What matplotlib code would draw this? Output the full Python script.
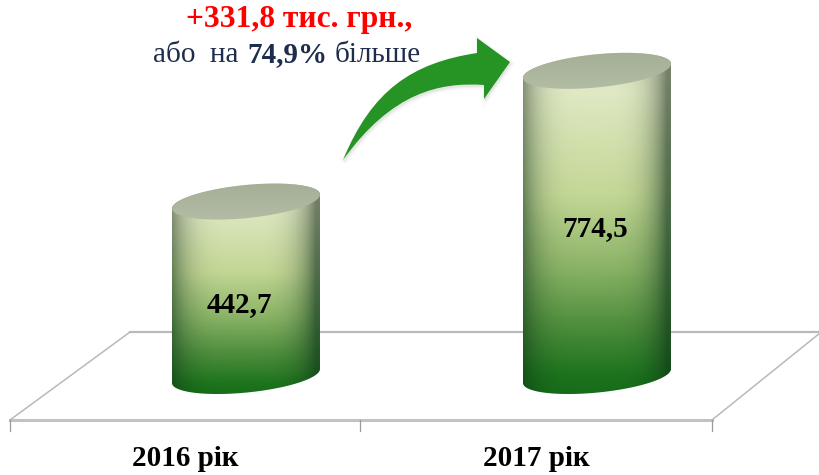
import numpy as np
import matplotlib
matplotlib.use('Agg')
import matplotlib.pyplot as plt
from matplotlib.colors import LinearSegmentedColormap
from matplotlib.patches import PathPatch
from matplotlib.path import Path
from matplotlib.transforms import Affine2D

years = ['2016 рік', '2017 рік']
values = [442.7, 774.5]
value_labels = ['442,7', '774,5']
gain_label = '+331,8 тис. грн.,'
pct_parts = ['або  на', '74,9%', 'більше']

plt.rcParams['font.family'] = ['Liberation Serif', 'DejaVu Serif']

W, H = 820, 475
PX_X = 351.     # pixels per category
PX_Y = 0.394    # pixels per value unit
X0, Y0 = 185.5, 376.

fig = plt.figure(figsize=(W / 100, H / 100), dpi=100, facecolor='white')
ax = fig.add_axes([0, 0, 1, 1])
ax.set_xlim(-X0 / PX_X, (W - X0) / PX_X)
ax.set_ylim((Y0 - H) / PX_Y, Y0 / PX_Y)
ax.axis('off')

# everything that is decoration is placed in image pixels
px = Affine2D().scale(1, -1).translate(0, H)

# floor
floor_col = '#b9b9b9'
ax.plot([130, 820], [332, 332], color=floor_col, lw=1.6, transform=px, zorder=1)
ax.plot([10, 712], [420, 420], color='#c2c2c2', lw=2.2, transform=px, zorder=1)
ax.plot([10, 130], [420, 332], color=floor_col, lw=1.1, transform=px, zorder=1)
ax.plot([712, 820], [420, 333], color=floor_col, lw=1.1, transform=px, zorder=1)
for tx in [10, 360, 712]:
    ax.plot([tx, tx], [420, 431], color='#9a9a9a', lw=0.9, transform=px, zorder=1)

body_cmap = LinearSegmentedColormap.from_list('body', [
    (0.0, '#d6dfc4'), (0.12, '#e0e9c4'), (0.42, '#c3d795'), (0.62, '#8cb467'),
    (0.8, '#4b8c3a'), (0.93, '#1d741d'), (1.0, '#156a18')])
top_cmap = LinearSegmentedColormap.from_list('top', ['#b4bea6', '#a3ad94'])

half_w = 74 / PX_X
bar_shift = 60.5 / PX_X
ell_h = 16.6 / PX_Y
ell_k = 7 / PX_Y
theta = np.linspace(0, 2 * np.pi, 120)


def ellipse_pts(xc, yc, th):
    return np.column_stack([xc + half_w * np.cos(th),
                            yc + ell_h * np.sin(th) + ell_k * np.cos(th)])


def draw_cylinder(i, val):
    xc = i + bar_shift
    # lower half of the base, right to left, then up the left side and over
    low = ellipse_pts(xc, 0, np.linspace(0, -np.pi, 60))
    up = ellipse_pts(xc, val, np.linspace(np.pi, 0, 60))
    verts = np.vstack([low, up, low[:1]])
    clip = PathPatch(Path(verts), transform=ax.transData, fc='none', ec='none')
    ax.add_patch(clip)

    ny, nx = 240, 160
    u = np.linspace(-1, 1, nx)[None, :]
    t = np.linspace(0, 1, ny)[:, None]
    rgb = body_cmap(t * np.ones_like(u))[..., :3]
    # side shading: grey at the top of the column, dark green near the base
    edge = np.clip(np.abs(u + 0.05) ** 4, 0, 1)[..., None]
    edge_col = (1 - t[..., None]) * np.array([0.47, 0.50, 0.42]) + t[..., None] * np.array([0.04, 0.27, 0.07])
    rgb = rgb * (1 - edge * 0.95) + edge_col * edge * 0.95
    y_top = val + ell_h + ell_k
    y_bot = -ell_h - ell_k
    im = ax.imshow(rgb, extent=[xc - half_w, xc + half_w, y_bot, y_top], aspect='auto',
                   origin='upper', interpolation='bilinear', zorder=2)
    im.set_clip_path(clip)

    cap = PathPatch(Path(ellipse_pts(xc, val, theta)), transform=ax.transData, fc='none', ec='none')
    ax.add_patch(cap)
    grad = np.linspace(0, 1, 64)[:, None] * np.ones((64, 64))
    im2 = ax.imshow(grad, cmap=top_cmap, extent=[xc - half_w, xc + half_w, val - ell_h - ell_k, val + ell_h + ell_k],
                    aspect='auto', origin='lower', zorder=3)
    im2.set_clip_path(cap)


for i, val in enumerate(values):
    draw_cylinder(i, val)

ax.set_xlim(-X0 / PX_X, (W - X0) / PX_X)
ax.set_ylim((Y0 - H) / PX_Y, Y0 / PX_Y)

# arrow between the columns
arrow_verts = [(343, 160), (372, 90), (412, 63), (477, 53), (477, 38), (510, 62), (484, 99),
               (484, 85), (440, 82), (392, 92), (343, 160), (343, 160)]
arrow_codes = [Path.MOVETO, Path.CURVE4, Path.CURVE4, Path.CURVE4, Path.LINETO, Path.LINETO, Path.LINETO,
               Path.LINETO, Path.CURVE4, Path.CURVE4, Path.CURVE4, Path.CLOSEPOLY]
arrow = Path(arrow_verts, arrow_codes)
for off, lw, alpha in [(2, 4, 0.03), (2, 2, 0.05)]:
    ax.add_patch(PathPatch(arrow, transform=Affine2D().translate(1, off) + px, fc='#555555', ec='#555555',
                           lw=lw, alpha=alpha, zorder=4))
ax.add_patch(PathPatch(arrow, transform=px, fc='#269424', ec='none', zorder=5))

# labels
navy = '#1f2d4d'
ax.text(299, 20, gain_label, color='#ff0000', fontsize=22.7, fontweight='bold', ha='center', va='center',
        transform=px, zorder=6)
ax.text(153, 55, pct_parts[0], color=navy, fontsize=21, ha='left', va='center', transform=px, zorder=6)
ax.text(247, 55, pct_parts[1], color=navy, fontsize=21, fontweight='bold', ha='left', va='center',
        transform=px, zorder=6)
ax.text(335, 55, pct_parts[2], color=navy, fontsize=21, ha='left', va='center', transform=px, zorder=6)

label_px = [(239, 305), (595, 229)]
for i, val in enumerate(values):
    ax.text(label_px[i][0], label_px[i][1], value_labels[i], color='black', fontsize=21, fontweight='bold',
            ha='center', va='center', transform=px, zorder=6)
    ax.text(i, (Y0 - 459) / PX_Y, years[i], color='black', fontsize=21, fontweight='bold',
            ha='center', va='center', zorder=6)

fig.savefig('out.png', dpi=100, facecolor='white')
